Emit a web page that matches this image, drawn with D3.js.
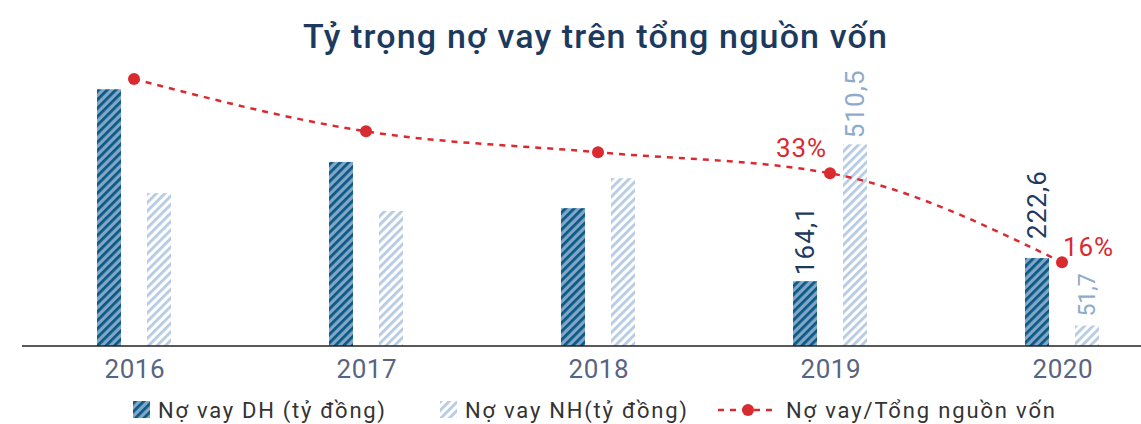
<!DOCTYPE html>
<html><head><meta charset="utf-8">
<script src="https://cdn.jsdelivr.net/npm/d3@7"></script>
<style>body{margin:0;background:#fff}svg{display:block}</style>
</head><body>
<svg id="c" width="1141" height="424"></svg>
<script>
const years = ["2016","2017","2018","2019","2020"];
const dh = [650, 466, 349, 164.1, 222.6];
const nh = [387, 342, 425, 510.5, 51.7];
const ratio = [51, 41, 37, 33, 16];
const dhLabels = [null, null, null, "164,1", "222,6"];
const nhLabels = [null, null, null, "510,5", "51,7"];
const ratioLabels = [null, null, null, "33%", "16%"];
const legendNames = ["Nợ vay DH (tỷ đồng)", "Nợ vay NH(tỷ đồng)", "Nợ vay/Tổng nguồn vốn"];
const title = "Tỷ trọng nợ vay trên tổng nguồn vốn";

const svg = d3.select("#c");
const F = "Roboto, 'DejaVu Sans', sans-serif";
const baseY = 346;
const x = d3.scalePoint().domain(years).range([134, 1062]);
const y = d3.scaleLinear().domain([0, 700]).range([baseY, 69.5]);
const yp = d3.scaleLinear().domain([0, 60]).range([baseY, baseY - 314.1]);
const bw = 24, off = 25;

const defs = svg.append("defs");
function pat(id, bg, fg) {
  const p = defs.append("pattern").attr("id", id).attr("patternUnits", "userSpaceOnUse")
    .attr("width", 6).attr("height", 6).attr("patternTransform", "rotate(45)");
  p.append("rect").attr("width", 6).attr("height", 6).attr("fill", bg);
  p.append("rect").attr("width", 2.8).attr("height", 6).attr("fill", fg);
}
pat("pDH", "#84a6c6", "#0a5a88");
pat("pNH", "#ffffff", "#b6cbe3");

svg.append("text").attr("x", 595).attr("y", 48).attr("text-anchor", "middle")
  .attr("font-family", F).attr("font-weight", 500).attr("font-size", 34)
  .attr("textLength", 584).attr("lengthAdjust", "spacing")
  .attr("fill", "#1c3a5e").text(title);

// bars
svg.append("g").selectAll("rect").data(years).join("rect")
  .attr("x", (d) => x(d) - off - bw / 2).attr("width", bw)
  .attr("y", (d, i) => y(dh[i])).attr("height", (d, i) => baseY - y(dh[i]))
  .attr("fill", "url(#pDH)");
svg.append("g").selectAll("rect").data(years).join("rect")
  .attr("x", (d) => x(d) + off - bw / 2).attr("width", bw)
  .attr("y", (d, i) => y(nh[i])).attr("height", (d, i) => baseY - y(nh[i]))
  .attr("fill", "url(#pNH)");

// axis
const ax = svg.append("g").attr("transform", `translate(0,${baseY})`)
  .call(d3.axisBottom(x).tickSize(0).tickPadding(14));
ax.select(".domain").attr("d", "M22,0H1141").attr("stroke", "#222").attr("stroke-width", 1.5);
ax.selectAll("text").attr("font-family", F).attr("font-size", 26).attr("fill", "#5a6482")
  .attr("dy", "0.71em").attr("textLength", 60).attr("lengthAdjust", "spacing");

// value labels (rotated)
function vlabels(vals, labels, dx, color, gaps) {
  svg.append("g").selectAll("text").data(years.filter((d, i) => labels[i]))
    .join("text")
    .attr("transform", (d) => { const i = years.indexOf(d); const s = labels[i].length > 4; return `translate(${x(d) + dx + (s ? 9 : 8)},${y(vals[i]) - gaps[i]}) rotate(-90)`; })
    .attr("font-family", F).attr("fill", color)
    .attr("font-size", (d) => labels[years.indexOf(d)].length > 4 ? 26 : 23)
    .each(function (d) { if (labels[years.indexOf(d)].length > 4) d3.select(this).attr("textLength", 68).attr("lengthAdjust", "spacing"); })
    .text((d) => labels[years.indexOf(d)]);
}
vlabels(dh, dhLabels, -off, "#1c3a5e", [6, 6, 6, 6, 19]);
vlabels(nh, nhLabels, off, "#8eabcb", [6, 6, 6, 6, 9]);

// line
const line = d3.line().x((d, i) => x(years[i])).y((d) => yp(d)).curve(d3.curveMonotoneX);
svg.append("path").datum(ratio).attr("d", line).attr("fill", "none")
  .attr("stroke", "#d92a30").attr("stroke-width", 2.5).attr("stroke-dasharray", "6,6");
svg.append("g").selectAll("circle").data(ratio).join("circle")
  .attr("cx", (d, i) => x(years[i])).attr("cy", (d) => yp(d)).attr("r", 6).attr("fill", "#d92a30");
svg.append("g").selectAll("text").data(years.filter((d, i) => ratioLabels[i])).join("text")
  .attr("x", (d) => x(d) + (d === "2019" ? -29 : 26)).attr("y", (d) => yp(ratio[years.indexOf(d)]) + (d === "2019" ? -16 : -6))
  .attr("text-anchor", "middle").attr("font-family", F).attr("font-size", 26).attr("fill", "#d92a30")
  .attr("textLength", 50).attr("lengthAdjust", "spacing")
  .text((d) => ratioLabels[years.indexOf(d)]);

// legend
const lg = svg.append("g").attr("font-family", F).attr("font-size", 22).attr("fill", "#333");
lg.append("rect").attr("x", 133).attr("y", 401).attr("width", 17).attr("height", 17).attr("fill", "url(#pDH)");
lg.append("text").attr("x", 158).attr("y", 418).attr("textLength", 227).attr("lengthAdjust", "spacing").text(legendNames[0]);
lg.append("rect").attr("x", 440).attr("y", 401).attr("width", 17).attr("height", 17).attr("fill", "url(#pNH)");
lg.append("text").attr("x", 465).attr("y", 418).attr("textLength", 222).attr("lengthAdjust", "spacing").text(legendNames[1]);
lg.append("line").attr("x1", 718).attr("x2", 778).attr("y1", 410).attr("y2", 410)
  .attr("stroke", "#d92a30").attr("stroke-width", 2.5).attr("stroke-dasharray", "6,6");
lg.append("circle").attr("cx", 748).attr("cy", 410).attr("r", 6).attr("fill", "#d92a30");
lg.append("text").attr("x", 786).attr("y", 418).attr("textLength", 269).attr("lengthAdjust", "spacing").text(legendNames[2]);
</script>
</body></html>
